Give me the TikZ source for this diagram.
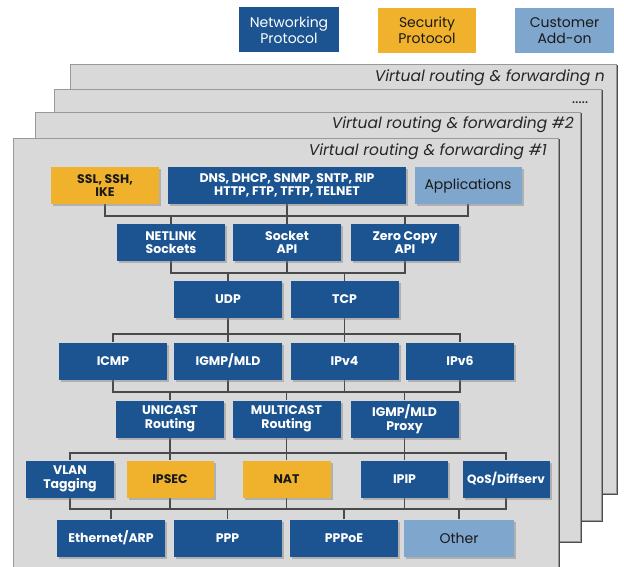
\documentclass[tikz,border=0pt]{standalone}
\usepackage{fontspec}
\setmainfont{Poppins}
\usetikzlibrary{shadows,calc}
\definecolor{netblue}{HTML}{1B5491}
\definecolor{secyel}{HTML}{F0B22D}
\definecolor{custblue}{HTML}{7FA6CC}
\definecolor{sheetgray}{HTML}{D9D9D9}
\definecolor{busgray}{HTML}{4A4A4A}
\pgfdeclarelayer{sheets}
\pgfdeclarelayer{wires}
\pgfsetlayers{sheets,wires,main}
\begin{document}
\begin{tikzpicture}[x=1pt,y=-1pt,
 sheet/.style={fill=sheetgray, draw=gray!80, line width=0.6pt,
   drop shadow={shadow xshift=2.2pt, shadow yshift=-1.5pt, fill=black!70, opacity=1}},
 box/.style={minimum height=37pt, minimum width=108pt, inner sep=1pt, align=center,
   font=\bfseries\fontsize{12.5}{13.5}\selectfont,
   drop shadow={shadow xshift=2pt, shadow yshift=-2pt, opacity=0.45}},
 net/.style={box, fill=netblue, text=white},
 sec/.style={box, fill=secyel, text=black!90},
 cust/.style={box, fill=custblue, text=black!90},
 bus/.style={draw=busgray, line width=1.8pt},
 title/.style={font=\itshape\fontsize{15.5}{17}\selectfont, anchor=east, text=black!85, inner sep=0pt},
 legend/.style={minimum height=45pt, inner sep=1pt, align=center,
   font=\fontsize{14}{16}\selectfont}
]
\clip (0,0) rectangle (624,567);

% legend
\node[legend, fill=netblue, text=white, minimum width=100pt] (lnet) at (289,30) {Networking\\Protocol};
\node[legend, fill=secyel, text=black!90, minimum width=98pt] (lsec) at (427,30.5) {Security\\Protocol};
\node[legend, fill=custblue, text=black!90, minimum width=99pt] (lcust) at (564.5,30.5) {Customer\\Add-on};

% sheets
\begin{pgfonlayer}{sheets}
\path[sheet] (70,64) rectangle (616,493);
\path[sheet] (54,89) rectangle (601,520);
\path[sheet] (35,112) rectangle (580,541);
\path[sheet] (13,138) rectangle (558,580);
\end{pgfonlayer}
\node[title] (tn) at (605,78) {Virtual routing \& forwarding n};
\node[title] (tdots) at (589,103) {.....};
\node[title] (t2) at (574,125) {Virtual routing \& forwarding \#2};
\node[title] (t1) at (547,152) {Virtual routing \& forwarding \#1};

% bus levels
\coordinate (bA) at (0,216);
\coordinate (bB) at (0,273);
\coordinate (bC) at (0,334);
\coordinate (bD) at (0,392);
\coordinate (bE) at (0,453);
\coordinate (bF) at (0,509);

% boxes
\node[sec, minimum width=108pt] (ssl) at (105,185.5) {SSL, SSH,\\IKE};
\node[net, minimum width=238pt] (dns) at (287,185.5) {DNS, DHCP, SNMP, SNTP, RIP\\HTTP, FTP, TFTP, TELNET};
\node[cust, minimum width=107pt, font=\fontsize{14}{15}\selectfont] (apps) at (468,185.5) {Applications};

\node[net] (netlink) at (171,242.5) {NETLINK\\Sockets};
\node[net] (socket) at (287,242.5) {Socket\\API};
\node[net] (zero) at (405,242.5) {Zero Copy\\API};

\node[net] (udp) at (228,299.5) {UDP};
\node[net] (tcp) at (344.5,299.5) {TCP};

\node[net] (icmp) at (113,361) {ICMP};
\node[net] (igmp) at (228,361) {IGMP/MLD};
\node[net] (ipvfour) at (344.5,361) {IPv4};
\node[net] (ipvsix) at (460,361) {IPv6};

\node[net] (unicast) at (170,419) {UNICAST\\Routing};
\node[net] (multicast) at (286.5,419) {MULTICAST\\Routing};
\node[net] (proxy) at (404.5,419) {IGMP/MLD\\Proxy};

\node[net, minimum width=88pt] (vlan) at (70,479) {VLAN\\Tagging};
\node[sec, minimum width=87pt] (ipsec) at (170,479) {IPSEC};
\node[sec, minimum width=88pt] (nat) at (286.5,479) {NAT};
\node[net, minimum width=87pt] (ipip) at (404.5,479) {IPIP};
\node[net, minimum width=87pt, font=\bfseries\fontsize{12}{13}\selectfont] (qos) at (506,479) {QoS/Diffserv};

\node[net] (eth) at (111,538) {Ethernet/ARP};
\node[net] (ppp) at (227.5,538) {PPP};
\node[net] (pppoe) at (344,538) {PPPoE};
\node[cust, minimum width=110pt, font=\fontsize{14}{15}\selectfont] (other) at (459,538) {Other};

% connectors
\begin{pgfonlayer}{wires}
\draw[bus] (ssl.south) -- (ssl.south |- bA) -- (apps.south |- bA) -- (apps.south);
\draw[bus] (dns.south) -- (socket.north);
\draw[bus] (netlink.north) -- (netlink.north |- bA);
\draw[bus] (zero.north) -- (zero.north |- bA);

\draw[bus] (netlink.south) -- (netlink.south |- bB) -- (zero.south |- bB) -- (zero.south);
\draw[bus] (socket.south) -- (socket.south |- bB);
\draw[bus] (udp.north) -- (udp.north |- bB);
\draw[bus] (tcp.north) -- (tcp.north |- bB);

\draw[bus] (icmp.north) -- (icmp.north |- bC) -- (ipvsix.north |- bC) -- (ipvsix.north);
\draw[bus] (udp.south) -- (igmp.north);
\draw[bus] (tcp.south) -- (ipvfour.north);

\draw[bus] (icmp.south) -- (icmp.south |- bD) -- (ipvsix.south |- bD) -- (ipvsix.south);
\draw[bus] (igmp.south) -- (igmp.south |- bD);
\draw[bus] (ipvfour.south) -- (ipvfour.south |- bD);
\draw[bus] (unicast.north) -- (unicast.north |- bD);
\draw[bus] (multicast.north) -- (multicast.north |- bD);
\draw[bus] (proxy.north) -- (proxy.north |- bD);

\draw[bus] (vlan.north) -- (vlan.north |- bE) -- (qos.north |- bE) -- (qos.north);
\draw[bus] (unicast.south) -- (ipsec.north);
\draw[bus] (multicast.south) -- (nat.north);
\draw[bus] (proxy.south) -- (ipip.north);

\draw[bus] (vlan.south) -- (vlan.south |- bF) -- (qos.south |- bF) -- (qos.south);
\draw[bus] (ipsec.south) -- (ipsec.south |- bF);
\draw[bus] (nat.south) -- (nat.south |- bF);
\draw[bus] (ipip.south) -- (ipip.south |- bF);
\draw[bus] (eth.north) -- (eth.north |- bF);
\draw[bus] (ppp.north) -- (ppp.north |- bF);
\draw[bus] (pppoe.north) -- (pppoe.north |- bF);
\draw[bus] (other.north) -- (other.north |- bF);
\end{pgfonlayer}
\end{tikzpicture}
\end{document}
